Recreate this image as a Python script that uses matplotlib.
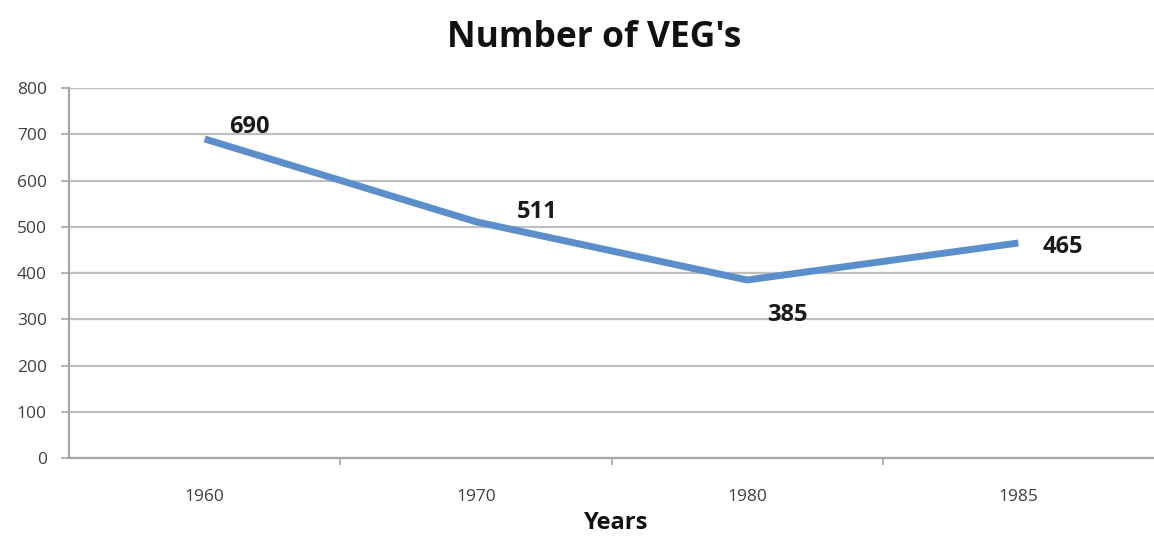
import matplotlib
matplotlib.use("Agg")
import matplotlib.pyplot as plt

years = ["1960", "1970", "1980", "1985"]
values = [690, 511, 385, 465]
yticks = [0, 100, 200, 300, 400, 500, 600, 700, 800]

plt.rcParams['font.family'] = ['Open Sans', 'DejaVu Sans']

fig = plt.figure(figsize=(11.54, 5.37), dpi=100)
ax = fig.add_axes([0.0598, 0.147, 0.9402, 0.689])

x = list(range(len(years)))
ax.plot(x, values, color="#5B8FCC", lw=5, solid_capstyle="butt", zorder=3)

ax.set_xlim(-0.5, 3.5)
ax.set_ylim(0, 800)
ax.set_yticks(yticks)
ax.set_xticks(x)
ax.set_xticklabels(years)
ax.set_xticks([0.5, 1.5, 2.5], minor=True)

ax.grid(axis="y", color="#BFBFBF", lw=1.6, zorder=0)
for s in ["top", "right"]:
    ax.spines[s].set_visible(False)
for s in ["left", "bottom"]:
    ax.spines[s].set_color("#A6A6A6")
    ax.spines[s].set_linewidth(1.6)

ax.tick_params(axis="y", length=6, color="#A6A6A6", width=1.2, labelsize=12.5, labelcolor="#404040", pad=10)
ax.tick_params(axis="x", which="major", length=0, labelsize=12.5, labelcolor="#404040", pad=22)
ax.tick_params(axis="x", which="minor", length=5, color="#A6A6A6", width=1.2)

offsets = [(0.09, 12), (0.15, 10), (0.075, -35), (0.09, -4)]
for xi, v, (dx, dy) in zip(x, values, offsets):
    ax.text(xi + dx, v + dy * 2.16, str(v),
            fontsize=17, fontweight="bold", color="#1a1a1a", va="center", ha="left")

fig.text(0.515, 0.93, "Number of VEG's", fontsize=25.5, fontweight="bold", ha="center", va="center", color="#111111")
fig.text(0.534, 0.004, "Years", fontsize=17, fontweight="bold", ha="center", va="bottom", color="#111111")

fig.savefig("out.png", dpi=100)
